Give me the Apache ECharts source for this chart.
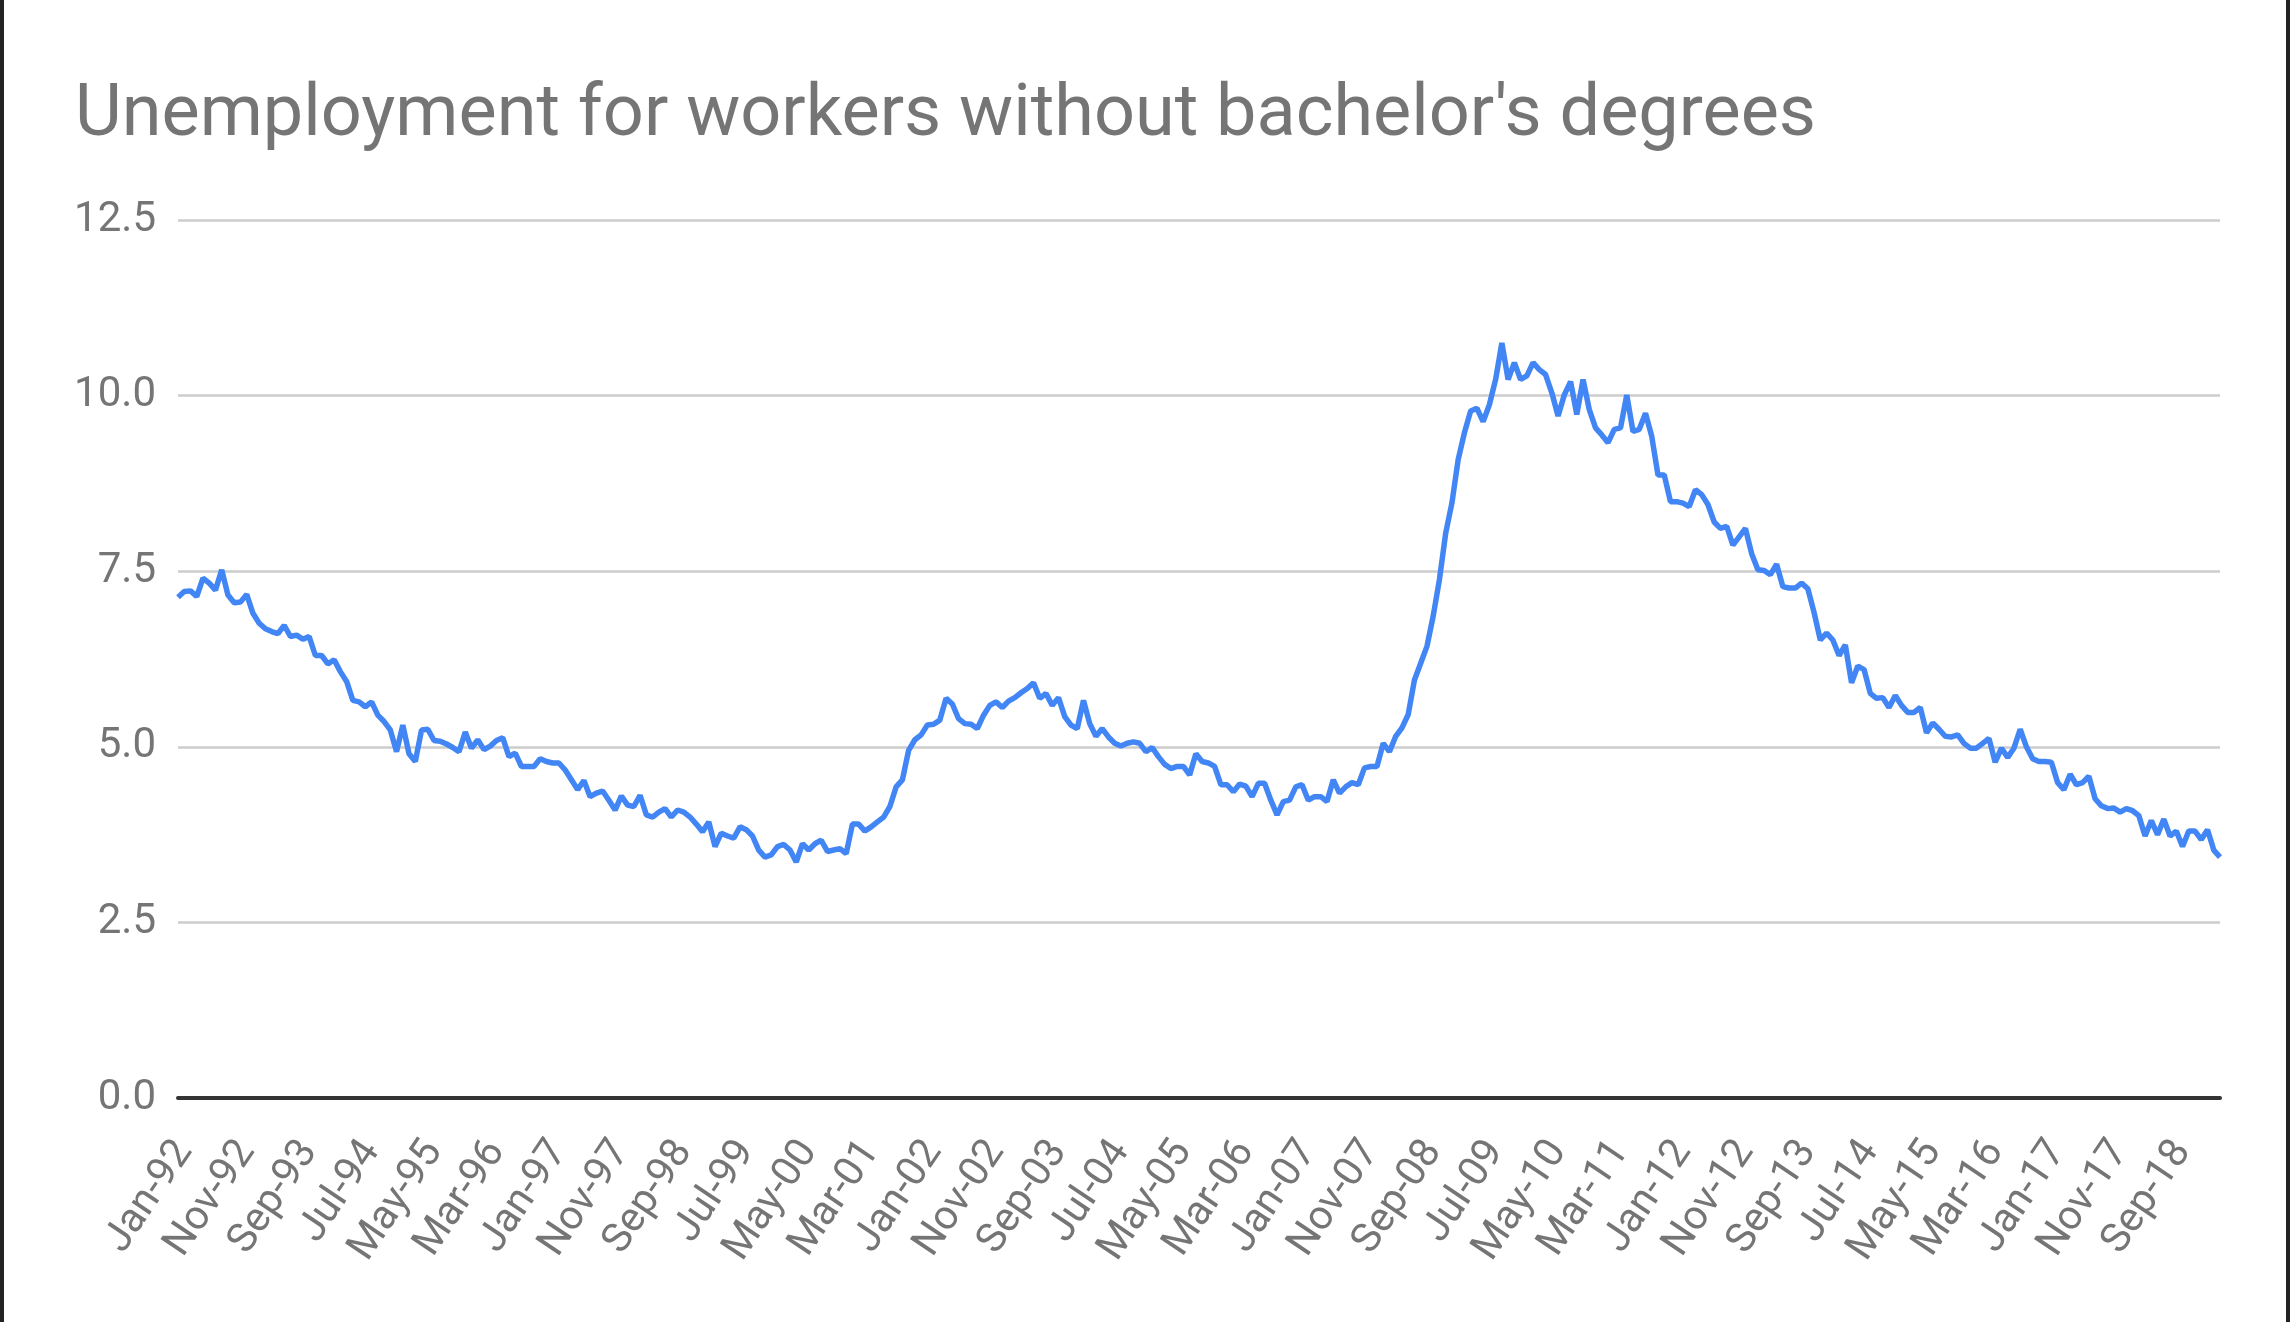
<!DOCTYPE html>
<html>
<head>
<meta charset="utf-8">
<title>Unemployment for workers without bachelor's degrees</title>
<script src="https://cdn.jsdelivr.net/npm/echarts@6/dist/echarts.min.js"></script>
<style>
  html, body { margin: 0; padding: 0; background: #fff; }
  #main { position: absolute; left: 0; top: 0; width: 2290px; height: 1322px; }
  .edge { position: absolute; top: 0; width: 4px; height: 1322px; background: #222; }
</style>
</head>
<body>
<div id="main"></div>
<div class="edge" style="left:0"></div>
<div class="edge" style="right:0"></div>
<script>
// monthly series, Jan-92 .. Apr-19 (one row per year)
var firstYear = 1992;
var monthNames = ['Jan', 'Feb', 'Mar', 'Apr', 'May', 'Jun', 'Jul', 'Aug', 'Sep', 'Oct', 'Nov', 'Dec'];
var rate = [
  7.13, 7.21, 7.22, 7.14, 7.40, 7.33, 7.23, 7.52, 7.16, 7.05, 7.06, 7.17, // 1992
  6.90, 6.76, 6.68, 6.64, 6.61, 6.73, 6.57, 6.59, 6.53, 6.57, 6.30, 6.30, // 1993
  6.18, 6.24, 6.07, 5.93, 5.66, 5.64, 5.57, 5.64, 5.45, 5.36, 5.24, 4.93, // 1994
  5.31, 4.90, 4.79, 5.24, 5.25, 5.09, 5.08, 5.04, 4.99, 4.93, 5.21, 4.98, // 1995
  5.10, 4.96, 5.01, 5.09, 5.13, 4.86, 4.91, 4.72, 4.72, 4.72, 4.83, 4.79, // 1996
  4.77, 4.77, 4.67, 4.53, 4.39, 4.52, 4.29, 4.34, 4.37, 4.24, 4.10, 4.30, // 1997
  4.17, 4.15, 4.31, 4.03, 4.00, 4.07, 4.12, 4.00, 4.10, 4.07, 4.00, 3.90, // 1998
  3.79, 3.93, 3.58, 3.77, 3.73, 3.70, 3.86, 3.82, 3.73, 3.53, 3.43, 3.46, // 1999
  3.58, 3.61, 3.53, 3.36, 3.62, 3.53, 3.62, 3.67, 3.51, 3.53, 3.55, 3.48, // 2000
  3.90, 3.90, 3.80, 3.86, 3.93, 4.00, 4.15, 4.43, 4.53, 4.95, 5.10, 5.17, // 2001
  5.31, 5.32, 5.38, 5.69, 5.61, 5.40, 5.33, 5.32, 5.26, 5.45, 5.59, 5.64, // 2002
  5.56, 5.65, 5.70, 5.77, 5.83, 5.91, 5.69, 5.76, 5.59, 5.70, 5.43, 5.31, // 2003
  5.26, 5.66, 5.33, 5.15, 5.26, 5.14, 5.05, 5.01, 5.05, 5.07, 5.05, 4.93, // 2004
  4.99, 4.86, 4.75, 4.69, 4.72, 4.72, 4.60, 4.90, 4.79, 4.77, 4.72, 4.46, // 2005
  4.46, 4.36, 4.47, 4.44, 4.29, 4.48, 4.48, 4.24, 4.03, 4.22, 4.24, 4.43, // 2006
  4.46, 4.24, 4.29, 4.29, 4.22, 4.53, 4.34, 4.43, 4.49, 4.46, 4.70, 4.72, // 2007
  4.72, 5.05, 4.93, 5.15, 5.27, 5.46, 5.95, 6.19, 6.43, 6.86, 7.38, 8.04, // 2008
  8.47, 9.09, 9.47, 9.78, 9.82, 9.63, 9.87, 10.23, 10.75, 10.23, 10.47, 10.23, // 2009
  10.28, 10.47, 10.37, 10.30, 10.04, 9.71, 10.01, 10.20, 9.73, 10.23, 9.80, 9.54, // 2010
  9.44, 9.33, 9.52, 9.54, 10.01, 9.49, 9.52, 9.75, 9.42, 8.87, 8.87, 8.49, // 2011
  8.49, 8.47, 8.42, 8.66, 8.59, 8.45, 8.20, 8.11, 8.14, 7.87, 7.99, 8.11, // 2012
  7.75, 7.52, 7.51, 7.45, 7.60, 7.28, 7.26, 7.26, 7.33, 7.25, 6.91, 6.52, // 2013
  6.62, 6.52, 6.30, 6.45, 5.91, 6.15, 6.10, 5.76, 5.69, 5.70, 5.56, 5.73, // 2014
  5.59, 5.49, 5.49, 5.56, 5.20, 5.34, 5.25, 5.15, 5.14, 5.17, 5.05, 4.98, // 2015
  4.98, 5.05, 5.12, 4.78, 4.98, 4.85, 4.98, 5.25, 5.00, 4.83, 4.79, 4.79, // 2016
  4.78, 4.49, 4.39, 4.61, 4.46, 4.49, 4.58, 4.26, 4.16, 4.12, 4.13, 4.07, // 2017
  4.12, 4.09, 4.02, 3.73, 3.95, 3.75, 3.97, 3.73, 3.80, 3.58, 3.80, 3.80, // 2018
  3.68, 3.82, 3.53, 3.43                                                  // 2019
];
var yTicks = [0, 2.5, 5, 7.5, 10, 12.5];

// category labels like "Jan-92"
var months = [];
for (var i = 0; i < rate.length; i++) {
  var yr = (firstYear + Math.floor(i / 12)) % 100;
  months.push(monthNames[i % 12] + '-' + (yr < 10 ? '0' + yr : yr));
}

var grey = '#757575';
var myChart = echarts.init(document.getElementById('main'));
myChart.setOption({
  animation: false,
  backgroundColor: '#fff',
  textStyle: { fontFamily: 'Roboto' },
  title: {
    text: "Unemployment for workers without bachelor's degrees",
    left: 70,
    top: 76,
    textStyle: { fontFamily: 'Roboto', fontSize: 72, fontWeight: 'normal', color: grey }
  },
  grid: { left: 178, right: 70, top: 220, bottom: 224, containLabel: false, outerBoundsMode: 'none' },
  xAxis: {
    type: 'category',
    data: months,
    boundaryGap: false,
    axisLine: { lineStyle: { color: '#333', width: 4 } },
    axisTick: { show: false },
    axisLabel: {
      interval: 9, rotate: 56, margin: 16, fontSize: 41, color: grey, fontFamily: 'Roboto',
      verticalAlign: 'top', padding: [2, 22, 0, 0]
    },
    splitLine: { show: false }
  },
  yAxis: {
    type: 'value',
    min: yTicks[0],
    max: yTicks[yTicks.length - 1],
    interval: 2.5,
    axisLine: { show: false },
    axisTick: { show: false },
    axisLabel: { fontSize: 42, color: grey, margin: 22, fontFamily: 'Roboto',
      formatter: function (v) { return v.toFixed(1); } },
    splitLine: { lineStyle: { color: '#cccccc', width: 2.5 } }
  },
  series: [{
    name: 'Unemployment',
    type: 'line',
    data: rate,
    showSymbol: false,
    lineStyle: { color: '#4285F4', width: 5.5 },
    itemStyle: { color: '#4285F4' }
  }]
});
</script>
</body>
</html>
